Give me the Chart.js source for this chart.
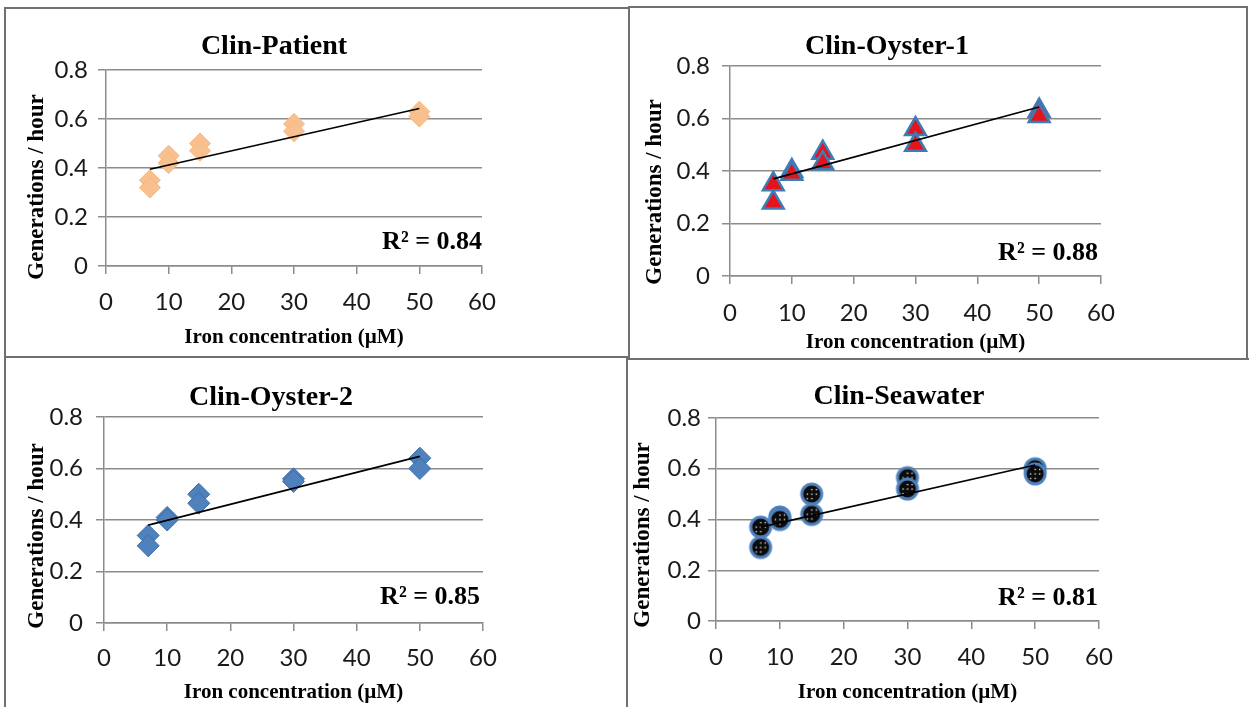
<!DOCTYPE html>
<html>
<head>
<meta charset="utf-8">
<title>Growth rate vs iron concentration</title>
<script src="https://cdn.jsdelivr.net/npm/chart.js@4.4.1/dist/chart.umd.min.js"></script>
<style>
    html, body { margin: 0; padding: 0; background: #fff; }
    #page { position: relative; width: 1249px; height: 707px; overflow: hidden; background: #fff; }
    #page canvas { position: absolute; left: 0; top: 0; }
    .frame { position: absolute; border: 2px solid #707070; box-sizing: border-box; }
</style>
</head>
<body>
<div id="page">
    <div class="frame" style="left:4px;top:7px;width:626px;height:351px"></div>
    <div class="frame" style="left:628px;top:6px;width:620px;height:354px"></div>
    <div class="frame" style="left:4px;top:356px;width:624px;height:400px"></div>
    <div class="frame" style="left:626px;top:358px;width:640px;height:400px"></div>
    <canvas id="c_patient" width="1249" height="707"></canvas>
    <canvas id="c_oyster1" width="1249" height="707"></canvas>
    <canvas id="c_oyster2" width="1249" height="707"></canvas>
    <canvas id="c_seawater" width="1249" height="707"></canvas>
</div>
<script>
    // iron concentration (uM) of each measurement, two replicates per level
    const ironConc = [7, 7, 10, 10, 15, 15, 30, 30, 50, 50];

    // growth rates (generations / hour)
    const patientRate  = [0.35, 0.32, 0.45, 0.42, 0.50, 0.47, 0.58, 0.55, 0.63, 0.61];
    const oyster1Rate  = [0.35, 0.28, 0.40, 0.39, 0.47, 0.43, 0.56, 0.50, 0.63, 0.61];
    const oyster2Rate  = [0.34, 0.30, 0.41, 0.40, 0.50, 0.465, 0.56, 0.55, 0.64, 0.60];
    const seawaterRate = [0.37, 0.29, 0.41, 0.40, 0.50, 0.42, 0.565, 0.52, 0.60, 0.58];

    // linear trend lines, start and end as drawn
    const trendX        = [7, 50];
    const patientTrend  = [0.395, 0.643];
    const oyster1Trend  = [0.37, 0.644];
    const oyster2Trend  = [0.38, 0.647];
    const seawaterTrend = [0.37, 0.615];

    const panelTitles = ['Clin-Patient', 'Clin-Oyster-1', 'Clin-Oyster-2', 'Clin-Seawater'];
    const r2Values    = ['0.84', '0.88', '0.85', '0.81'];

    // axis ranges / ticks
    const xRange = [0, 60], xStep = 10;
    const yRange = [0, 0.8], yStep = 0.2;

    const PAGE_W = 1249, PAGE_H = 707;
    const GRID = '#8c8c8c';
    const TICK_FONT = { family: 'Lato, "Open Sans", sans-serif', size: 24 };
    const SERIF = '"Liberation Serif", "DejaVu Serif", serif';

    // seawater marker: black disc with white dots, blue ring
    function dottedDisc(r) {
        const c = document.createElement('canvas');
        const s = 2 * r + 6;
        c.width = s;
        c.height = s;
        const g = c.getContext('2d');
        const m = s / 2;
        g.beginPath();
        g.arc(m, m, r, 0, Math.PI * 2);
        g.fillStyle = '#0b0b0b';
        g.fill();
        g.lineWidth = 3;
        g.strokeStyle = '#4f81bd';
        g.stroke();
        g.fillStyle = '#fff';
        for (let i = -1; i <= 1; i++) {
            for (let j = -1; j <= 1; j++) {
                if (i !== 0 && j !== 0 && (i + j) % 2 === 0 && i === j) continue;
                g.fillRect(m + i * 4.5 - 0.6, m + j * 4.5 - 0.6, 1.3, 1.3);
            }
        }
        return c;
    }

    const panelText = {
        id: 'panelText',
        afterDraw: function (chart, args, o) {
            const ctx = chart.ctx;
            ctx.save();
            ctx.fillStyle = '#000';
            ctx.textBaseline = 'middle';

            ctx.font = 'bold 28px ' + SERIF;
            ctx.textAlign = 'center';
            ctx.fillText(o.title, o.titleX, o.titleY);

            ctx.font = 'bold 26px ' + SERIF;
            ctx.textAlign = 'right';
            ctx.fillText('R\u00B2 = ' + o.r2, o.r2X, o.r2Y);

            ctx.translate(o.yTitleX, o.yTitleY);
            ctx.rotate(-Math.PI / 2);
            ctx.font = 'bold 23px ' + SERIF;
            ctx.textAlign = 'center';
            ctx.fillText('Generations / hour', 0, 0);
            ctx.restore();
        }
    };

    function makePanel(id, p) {
        const xTitleSize = 21;
        const padBottom = PAGE_H - p.xTitleY - xTitleSize * 1.2 / 2;
        const xTickPad = p.xTickY - p.area.bottom - 8 - TICK_FONT.size * 1.2 / 2;

        return new Chart(document.getElementById(id), {
            type: 'scatter',
            data: {
                datasets: [
                    {
                        type: 'line',
                        data: trendX.map(function (x, i) { return { x: x, y: p.trend[i] }; }),
                        borderColor: '#000',
                        borderWidth: 1.6,
                        pointRadius: 0,
                        fill: false
                    },
                    {
                        data: ironConc.map(function (x, i) { return { x: x, y: p.rates[i] }; }),
                        pointStyle: p.marker.style,
                        pointRadius: p.marker.radius,
                        backgroundColor: p.marker.fill,
                        borderColor: p.marker.border,
                        borderWidth: p.marker.borderWidth
                    }
                ]
            },
            options: {
                responsive: false,
                animation: false,
                layout: {
                    padding: {
                        left: 0,
                        top: p.area.top,
                        right: PAGE_W - p.area.right,
                        bottom: padBottom
                    }
                },
                plugins: {
                    legend: { display: false },
                    tooltip: { enabled: false },
                    panelText: {
                        title: p.title, titleX: p.titleX, titleY: p.titleY,
                        r2: p.r2, r2X: p.r2X, r2Y: p.r2Y,
                        yTitleX: p.yTitleX, yTitleY: p.yTitleY
                    }
                },
                scales: {
                    x: {
                        type: 'linear',
                        min: xRange[0],
                        max: xRange[1],
                        ticks: { stepSize: xStep, font: TICK_FONT, color: '#1a1a1a', padding: xTickPad, maxRotation: 0 },
                        grid: { drawOnChartArea: false, color: GRID, lineWidth: 1.5, tickLength: 8 },
                        border: { color: GRID, width: 1.5 },
                        title: {
                            display: true,
                            text: 'Iron concentration (\u00B5M)',
                            color: '#000',
                            font: { family: SERIF, weight: 'bold', size: xTitleSize },
                            padding: 0
                        },
                        afterFit: function (s) { s.height = PAGE_H - padBottom - p.area.bottom; }
                    },
                    y: {
                        type: 'linear',
                        min: yRange[0],
                        max: yRange[1],
                        ticks: { stepSize: yStep, font: TICK_FONT, color: '#1a1a1a', padding: p.yTickPad },
                        grid: { color: GRID, lineWidth: 1.5, tickLength: 8 },
                        border: { color: GRID, width: 1.5 },
                        afterFit: function (s) { s.width = p.area.left; }
                    }
                }
            },
            plugins: [panelText]
        });
    }

    makePanel('c_patient', {
        rates: patientRate, trend: patientTrend, title: panelTitles[0], r2: r2Values[0],
        area: { left: 106, right: 482, top: 70, bottom: 266 },
        titleX: 274, titleY: 47, r2X: 482, r2Y: 242, yTitleX: 37, yTitleY: 187,
        xTitleY: 338, xTickY: 302, yTickPad: 10,
        marker: { style: 'rectRot', radius: 10.5, fill: '#f9c08f', border: '#f7b680', borderWidth: 1 }
    });

    makePanel('c_oyster1', {
        rates: oyster1Rate, trend: oyster1Trend, title: panelTitles[1], r2: r2Values[1],
        area: { left: 730, right: 1101, top: 66, bottom: 276 },
        titleX: 887, titleY: 47, r2X: 1098, r2Y: 253, yTitleX: 655, yTitleY: 192,
        xTitleY: 343, xTickY: 313, yTickPad: 12,
        marker: { style: 'triangle', radius: 12, fill: '#e3141c', border: '#3f7cb5', borderWidth: 2.5 }
    });

    makePanel('c_oyster2', {
        rates: oyster2Rate, trend: oyster2Trend, title: panelTitles[2], r2: r2Values[2],
        area: { left: 104, right: 483, top: 417, bottom: 623 },
        titleX: 271, titleY: 398, r2X: 480, r2Y: 597, yTitleX: 37, yTitleY: 536,
        xTitleY: 693, xTickY: 658, yTickPad: 13,
        marker: { style: 'rectRot', radius: 11, fill: '#4f81bd', border: '#3d6ea8', borderWidth: 1 }
    });

    makePanel('c_seawater', {
        rates: seawaterRate, trend: seawaterTrend, title: panelTitles[3], r2: r2Values[3],
        area: { left: 716, right: 1099, top: 418, bottom: 621 },
        titleX: 899, titleY: 397, r2X: 1098, r2Y: 598, yTitleX: 643, yTitleY: 535,
        xTitleY: 693, xTickY: 657, yTickPad: 7,
        marker: { style: dottedDisc(10), radius: 11, fill: '#000', border: '#4f81bd', borderWidth: 0 }
    });
</script>
</body>
</html>
